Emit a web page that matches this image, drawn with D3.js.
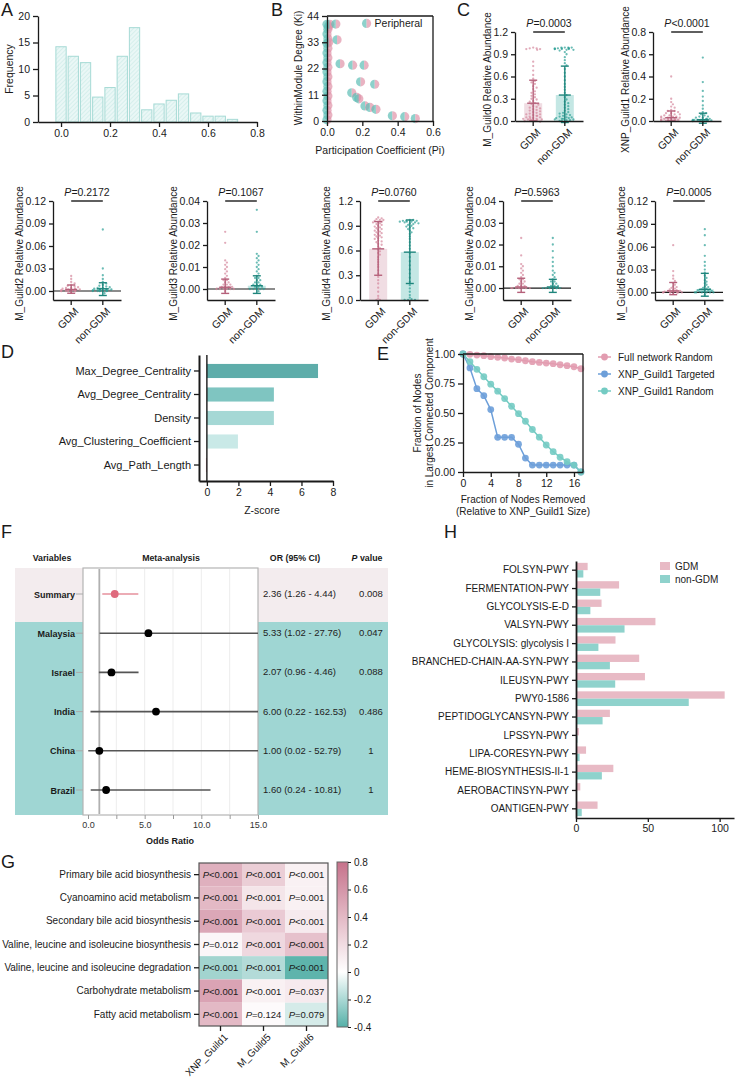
<!DOCTYPE html>
<html>
<head>
<meta charset="utf-8">
<script src="https://d3js.org/d3.v7.min.js"></script>
<style>
  body { margin: 0; background: #fff; }
  svg { display: block; }
</style>
</head>
<body>
<div id="fig"></div>
<script>
const FONT = '"Liberation Sans", Arial, Helvetica, sans-serif';
const INK = "#1a1a1a";

// ---------- A: histogram
const histBins = [0, 0.05, 0.1, 0.15, 0.2, 0.25, 0.3, 0.35, 0.4, 0.45, 0.5, 0.55, 0.6, 0.65, 0.7];
const histFreq = [14.2, 12.4, 11.2, 4.7, 6.5, 12.4, 17.8, 2.3, 3.4, 4.1, 5.3, 1.7, 1.1, 1.1, 0.5];

// ---------- B: peripheral nodes
const nodePi = [0, 0.005, 0, 0.005, 0, 0.005, 0, 0.005, 0, 0.005, 0, 0.005, 0, 0.005, 0, 0.005, 0, 0.005, 0, 0.005, 0,
  0.01, 0.008,
  0.015, 0.05, 0.057, 0.074, 0.145, 0.21, 0.19, 0.27, 0.14, 0.168, 0.18, 0.215, 0.243, 0.277, 0.37, 0.44, 0.5];
const nodeKi = [0.5, 2.5, 4.5, 6.5, 8.5, 10.5, 12.5, 14.5, 16.5, 18.5, 20.5, 22.5, 24.5, 26.5, 28.5, 30.5, 32.5, 34.5, 36.5, 38.5, 40.5,
  33, 39.5,
  40.5, 40.6, 34, 24, 23.4, 23.4, 16.4, 15.4, 11.8, 9.9, 9.3, 6.3, 5.7, 4.9, 2.2, 1.8, 1.0];

// ---------- C: guild abundances
const guildNames = ["M_Guild0", "XNP_Guild1", "M_Guild2", "M_Guild3", "M_Guild4", "M_Guild5", "M_Guild6"];
const guildPval = ["=0.0003", "<0.0001", "=0.2172", "=0.1067", "=0.0760", "=0.5963", "=0.0005"];
const guildYMax = [1.2, 0.8, 0.12, 0.04, 1.2, 0.04, 0.12];
const guildYStep = [0.3, 0.2, 0.03, 0.01, 0.3, 0.01, 0.03];
const guildMeanGDM = [0.24, 0.03, 0.002, 0.0008, 0.62, 0.0005, 0.002];
const guildMeanNon = [0.35, 0.012, 0.003, 0.0015, 0.58, 0.0005, 0.004];
const guildErrGDM = [[0, 0.55], [0, 0.09], [-0.003, 0.008], [-0.002, 0.0045], [0.30, 0.95], [-0.002, 0.0045], [-0.003, 0.013]];
const guildErrNon = [[-0.02, 0.74], [-0.02, 0.07], [-0.006, 0.011], [-0.002, 0.006], [0.20, 0.97], [-0.002, 0.004], [-0.005, 0.025]];

const g0GDM = [0.99, 0.98, 0.98, 0.97, 0.97, 0.96, 0.80, 0.74, 0.68, 0.62, 0.57, 0.54, 0.52, 0.50, 0.47, 0.45, 0.43, 0.40, 0.38, 0.36, 0.34, 0.32, 0.30, 0.29, 0.27, 0.26, 0.24, 0.23, 0.22, 0.20, 0.19, 0.18, 0.17, 0.16, 0.15, 0.14, 0.13, 0.12, 0.11, 0.10, 0.09, 0.09, 0.08, 0.07, 0.07, 0.06, 0.05, 0.05, 0.04, 0.04, 0.03, 0.03, 0.02, 0.02, 0.01, 0.01, 0.01, 0.0, 0.0, -0.01];
const g0Non = [0.99, 0.99, 0.99, 0.99, 0.98, 0.98, 0.98, 0.98, 0.98, 0.97, 0.97, 0.97, 0.97, 0.96, 0.96, 0.95, 0.93, 0.90, 0.86, 0.82, 0.78, 0.75, 0.70, 0.65, 0.60, 0.55, 0.50, 0.46, 0.42, 0.38, 0.35, 0.32, 0.29, 0.26, 0.24, 0.22, 0.20, 0.18, 0.16, 0.14, 0.12, 0.11, 0.10, 0.09, 0.08, 0.07, 0.06, 0.05, 0.05, 0.04, 0.04, 0.03, 0.03, 0.02, 0.02, 0.01, 0.01, 0.0, 0.0, -0.02];
const g1GDM = [0.40, 0.20, 0.17, 0.15, 0.13, 0.12, 0.10, 0.09, 0.09, 0.08, 0.07, 0.07, 0.06, 0.06, 0.05, 0.05, 0.04, 0.04, 0.04, 0.03, 0.03, 0.03, 0.02, 0.02, 0.02, 0.02, 0.01, 0.01, 0.01, 0.01, 0.01, 0.005, 0.005, 0.0, 0.0, 0.0, 0.0];
const g1Non = [0.57, 0.35, 0.27, 0.22, 0.18, 0.14, 0.11, 0.08, 0.07, 0.06, 0.05, 0.04, 0.04, 0.03, 0.03, 0.02, 0.02, 0.02, 0.01, 0.01, 0.01, 0.01, 0.005, 0.005, 0.005, 0.0, 0.0, 0.0, 0.0, 0.0, 0.0, -0.02];
const g2GDM = [0.020, 0.016, 0.012, 0.010, 0.008, 0.007, 0.006, 0.005, 0.004, 0.004, 0.003, 0.003, 0.002, 0.002, 0.002, 0.001, 0.001, 0.001, 0.001, 0.0, 0.0, 0.0, 0.0, 0.0, 0.0, 0.0, -0.002];
const g2Non = [0.082, 0.030, 0.021, 0.016, 0.012, 0.010, 0.008, 0.007, 0.006, 0.005, 0.004, 0.004, 0.003, 0.003, 0.002, 0.002, 0.002, 0.001, 0.001, 0.001, 0.0, 0.0, 0.0, 0.0, 0.0, 0.0, 0.0, -0.003];
const g3GDM = [0.026, 0.021, 0.013, 0.012, 0.011, 0.010, 0.009, 0.008, 0.007, 0.006, 0.005, 0.004, 0.004, 0.003, 0.003, 0.002, 0.002, 0.002, 0.001, 0.001, 0.001, 0.001, 0.0, 0.0, 0.0, 0.0, 0.0, 0.0, -0.001];
const g3Non = [0.036, 0.026, 0.016, 0.015, 0.014, 0.013, 0.012, 0.011, 0.010, 0.009, 0.008, 0.007, 0.006, 0.005, 0.005, 0.004, 0.004, 0.003, 0.003, 0.002, 0.002, 0.002, 0.001, 0.001, 0.001, 0.0, 0.0, 0.0, 0.0, 0.0, -0.001];
const g4GDM = [1.0, 0.99, 0.98, 0.97, 0.97, 0.96, 0.95, 0.95, 0.94, 0.93, 0.92, 0.91, 0.90, 0.89, 0.88, 0.87, 0.86, 0.85, 0.84, 0.83, 0.82, 0.81, 0.80, 0.79, 0.78, 0.77, 0.76, 0.75, 0.74, 0.72, 0.71, 0.70, 0.68, 0.67, 0.65, 0.63, 0.61, 0.59, 0.57, 0.55, 0.52, 0.49, 0.46, 0.43, 0.40, 0.36, 0.32, 0.28, 0.24, 0.20, 0.15, 0.10, 0.05, 0.02, 0.0, 0.0];
const g4Non = [0.97, 0.97, 0.96, 0.96, 0.96, 0.95, 0.95, 0.95, 0.94, 0.94, 0.93, 0.93, 0.92, 0.91, 0.90, 0.89, 0.88, 0.87, 0.86, 0.84, 0.82, 0.80, 0.77, 0.74, 0.70, 0.66, 0.62, 0.57, 0.52, 0.47, 0.42, 0.37, 0.32, 0.27, 0.22, 0.18, 0.14, 0.10, 0.06, 0.03, 0.01, 0.0, 0.0, 0.0];
const g5GDM = [0.023, 0.015, 0.011, 0.010, 0.009, 0.008, 0.007, 0.006, 0.005, 0.004, 0.004, 0.003, 0.003, 0.002, 0.002, 0.001, 0.001, 0.001, 0.0, 0.0, 0.0, 0.0, 0.0, 0.0, 0.0, 0.0, 0.0];
const g5Non = [0.023, 0.020, 0.017, 0.014, 0.012, 0.010, 0.008, 0.007, 0.006, 0.005, 0.004, 0.003, 0.003, 0.002, 0.002, 0.001, 0.001, 0.001, 0.0, 0.0, 0.0, 0.0, 0.0, 0.0, 0.0, 0.0, 0.0];
const g6GDM = [0.062, 0.028, 0.022, 0.018, 0.015, 0.012, 0.010, 0.008, 0.007, 0.006, 0.005, 0.004, 0.003, 0.003, 0.002, 0.002, 0.001, 0.001, 0.001, 0.0, 0.0, 0.0, 0.0, 0.0, 0.0, 0.0, 0.0, -0.002];
const g6Non = [0.083, 0.075, 0.062, 0.048, 0.040, 0.035, 0.030, 0.026, 0.022, 0.019, 0.016, 0.014, 0.012, 0.010, 0.008, 0.007, 0.006, 0.005, 0.004, 0.004, 0.003, 0.003, 0.002, 0.002, 0.001, 0.001, 0.0, 0.0, 0.0, 0.0, 0.0, 0.0, -0.003];
const guildGDMPoints = [g0GDM, g1GDM, g2GDM, g3GDM, g4GDM, g5GDM, g6GDM];
const guildNonPoints = [g0Non, g1Non, g2Non, g3Non, g4Non, g5Non, g6Non];

// ---------- D: z-scores
const zMetrics = ["Max_Degree_Centrality", "Avg_Degree_Centrality", "Density", "Avg_Clustering_Coefficient", "Avg_Path_Length"];
const zScores = [7.05, 4.25, 4.25, 1.97, -0.06];

// ---------- E: robustness
const nodesRemoved = [0, 1, 2, 3, 4, 5, 6, 7, 8, 9, 10, 11, 12, 13, 14, 15, 16, 17];
const fullRandom = [1.0, 0.997, 0.991, 0.986, 0.977, 0.972, 0.966, 0.957, 0.952, 0.943, 0.935, 0.929, 0.923, 0.918, 0.909, 0.901, 0.892, 0.875];
const guildTargeted = [1.0, 0.882, 0.706, 0.647, 0.529, 0.294, 0.294, 0.294, 0.235, 0.118, 0.059, 0.059, 0.059, 0.059, 0.059, 0.059, 0.059, 0.0];
const guildRandom = [1.0, 0.935, 0.87, 0.807, 0.744, 0.685, 0.622, 0.557, 0.494, 0.43, 0.36, 0.295, 0.229, 0.172, 0.125, 0.087, 0.059, 0.0];
const robustSeries = ["Full network Random", "XNP_Guild1 Targeted", "XNP_Guild1 Random"];

// ---------- F: meta-analysis
const studyNames = ["Summary", "Malaysia", "Israel", "India", "China", "Brazil"];
const studyOR = [2.36, 5.33, 2.07, 6.00, 1.00, 1.60];
const studyLo = [1.26, 1.02, 0.96, 0.22, 0.02, 0.24];
const studyHi = [4.44, 27.76, 4.46, 162.53, 52.79, 10.81];
const studyP = ["0.008", "0.047", "0.088", "0.486", "1", "1"];

// ---------- G: correlation heatmap
const heatRows = ["Primary bile acid biosynthesis", "Cyanoamino acid metabolism", "Secondary bile acid biosynthesis",
  "Valine, leucine and isoleucine biosynthesis", "Valine, leucine and isoleucine degradation",
  "Carbohydrate metabolism", "Fatty acid metabolism"];
const heatCols = ["XNP_Guild1", "M_Guild5", "M_Guild6"];
const heatR = [[0.45, 0.28, 0.08], [0.40, 0.15, 0.08], [0.50, 0.30, 0.12], [0.05, 0.22, 0.35],
  [-0.22, -0.18, -0.38], [0.52, 0.08, 0.12], [0.40, 0.03, -0.10]];
const heatP = [["<0.001", "<0.001", "<0.001"], ["<0.001", "<0.001", "=0.001"], ["<0.001", "<0.001", "<0.001"],
  ["=0.012", "<0.001", "<0.001"], ["<0.001", "<0.001", "<0.001"], ["<0.001", "<0.001", "=0.037"],
  ["<0.001", "=0.124", "=0.079"]];

// ---------- H: pathways
const pathways = ["FOLSYN-PWY", "FERMENTATION-PWY", "GLYCOLYSIS-E-D", "VALSYN-PWY", "GLYCOLYSIS: glycolysis I",
  "BRANCHED-CHAIN-AA-SYN-PWY", "ILEUSYN-PWY", "PWY0-1586", "PEPTIDOGLYCANSYN-PWY", "LPSSYN-PWY",
  "LIPA-CORESYN-PWY", "HEME-BIOSYNTHESIS-II-1", "AEROBACTINSYN-PWY", "OANTIGEN-PWY"];
const pathGDM = [8.1, 30, 17.8, 55.3, 27.5, 44, 48, 103.5, 23.6, 2, 7, 26, 3, 15];
const pathNon = [5.1, 16.9, 10, 33.8, 15.6, 23.6, 27.3, 78.5, 18.5, 1, 2.5, 18, 0.5, 4];

// =====================================================================
const svg = d3.select("#fig").append("svg")
  .attr("width", 750).attr("height", 1079)
  .attr("font-family", FONT)
  .style("background", "#fff");
const defs = svg.append("defs");

function fixAxis(g, fs) {
  g.attr("font-family", FONT).attr("font-size", fs || 10);
  g.selectAll(".domain").attr("stroke", INK).attr("stroke-width", 1.3);
  g.selectAll(".tick line").attr("stroke", INK).attr("stroke-width", 1.3);
  g.selectAll(".tick text").attr("fill", INK);
  return g;
}
function panelLetter(t, x, y) {
  svg.append("text").attr("x", x).attr("y", y).attr("font-size", 18).attr("fill", INK).text(t);
}
function rotLabel(t, x, y, fs) {
  return svg.append("text").attr("transform", `translate(${x},${y}) rotate(-90)`)
    .attr("text-anchor", "middle").attr("dominant-baseline", "middle")
    .attr("font-size", fs || 10).attr("fill", INK).text(t);
}
function pText(sel, rest) {
  sel.append("tspan").attr("font-style", "italic").text("P");
  sel.append("tspan").text(rest);
}

// ---------------- A
panelLetter("A", 1, 16);
const hatch = defs.append("pattern").attr("id", "hatch").attr("patternUnits", "userSpaceOnUse")
  .attr("width", 3).attr("height", 3).attr("patternTransform", "rotate(45)");
hatch.append("rect").attr("width", 3).attr("height", 3).attr("fill", "#eaf7f6");
hatch.append("line").attr("x1", 0).attr("y1", 0).attr("x2", 0).attr("y2", 3)
  .attr("stroke", "#c3e7e3").attr("stroke-width", 1);

const ax = d3.scaleLinear().domain([-0.094, 0.8]).range([38, 257]);
const ay = d3.scaleLinear().domain([0, 20]).range([122, 16]);
svg.append("g").selectAll("rect").data(histBins).join("rect")
  .attr("x", d => ax(d - 0.021))
  .attr("width", ax(0.021) - ax(-0.021))
  .attr("y", (d, i) => ay(histFreq[i]))
  .attr("height", (d, i) => ay(0) - ay(histFreq[i]))
  .attr("fill", "url(#hatch)").attr("stroke", "#a6dad5").attr("stroke-width", 1);
fixAxis(svg.append("g").attr("transform", "translate(0,122)")
  .call(d3.axisBottom(ax).tickValues([0, 0.2, 0.4, 0.6, 0.8]).tickFormat(d3.format(".1f")).tickSize(5).tickSizeOuter(0)), 10.5);
fixAxis(svg.append("g").attr("transform", "translate(38,0)")
  .call(d3.axisLeft(ay).tickValues([0, 5, 10, 15, 20]).tickSize(5).tickSizeOuter(0)), 10.5);
rotLabel("Frequency", 10, 69, 10.5);

// ---------------- B
panelLetter("B", 271, 16);
const bx = d3.scaleLinear().domain([0, 0.6]).range([327, 433]);
const by = d3.scaleLinear().domain([0, 44]).range([121, 16]);
const halfL = d3.arc().innerRadius(0).outerRadius(4.6).startAngle(Math.PI).endAngle(2 * Math.PI);
const halfR = d3.arc().innerRadius(0).outerRadius(4.6).startAngle(0).endAngle(Math.PI);
const nodeG = svg.append("g").selectAll("g").data(nodePi).join("g")
  .attr("transform", (d, i) => `translate(${bx(d)},${by(nodeKi[i])})`);
nodeG.append("path").attr("d", halfL()).attr("fill", "#5dbdb5").attr("opacity", 0.7);
nodeG.append("path").attr("d", halfR()).attr("fill", "#df93a8").attr("opacity", 0.7);
svg.append("line").attr("x1", 327).attr("x2", 433).attr("y1", 16).attr("y2", 16).attr("stroke", INK).attr("stroke-width", 1.3);
svg.append("line").attr("x1", 433).attr("x2", 433).attr("y1", 16).attr("y2", 121).attr("stroke", INK).attr("stroke-width", 1.3);
fixAxis(svg.append("g").attr("transform", "translate(0,121)")
  .call(d3.axisBottom(bx).tickValues([0, 0.2, 0.4, 0.6]).tickFormat(d3.format(".1f")).tickSize(5).tickSizeOuter(0)), 10.5);
fixAxis(svg.append("g").attr("transform", "translate(327,0)")
  .call(d3.axisLeft(by).tickValues([0, 11, 22, 33, 44]).tickSize(5).tickSizeOuter(0)), 10.5);
rotLabel("WithinModule Degree (Ki)", 299, 68, 10);
svg.append("text").attr("x", 380).attr("y", 154).attr("text-anchor", "middle").attr("font-size", 10.5)
  .attr("fill", INK).text("Participation Coefficient (Pi)");
const legB = svg.append("g").attr("transform", `translate(${bx(0.224)},${by(40.9)})`);
legB.append("path").attr("d", halfL()).attr("fill", "#5dbdb5").attr("opacity", 0.7);
legB.append("path").attr("d", halfR()).attr("fill", "#df93a8").attr("opacity", 0.7);
svg.append("text").attr("x", bx(0.224) + 8).attr("y", by(40.9) + 4).attr("font-size", 10.5).attr("fill", INK).text("Peripheral");

// ---------------- C: swarm plots
panelLetter("C", 457, 16);
const groups = ["GDM", "non-GDM"];
const groupFill = ["#f0dde3", "#c4e7e4"];
const groupDot = ["#d4879d", "#2c9f95"];
const groupErr = ["#b5607a", "#1e857c"];
const plotX = [515, 653, 53, 207, 360, 503, 655];
const plotTop = [32, 32, 201, 201, 201, 201, 201];
const plotBot = [121, 121, 300, 300, 300, 300, 300];
const yMinAxis = [0, 0, -0.012, -0.005, 0, -0.0055, -0.01];

function swarm(vals, y, r, maxW) {
  const pts = vals.map(v => ({ v: v, y: y(v) })).sort((a, b) => a.y - b.y);
  const placed = [];
  pts.forEach((p, i) => {
    let best = null;
    for (let k = 0; k < 60; k++) {
      const off = (k % 2 ? 1 : -1) * Math.ceil(k / 2) * r * 1.5;
      if (Math.abs(off) > maxW) break;
      if (placed.every(q => Math.hypot(q.dx - off, q.y - p.y) >= 2 * r)) { best = off; break; }
    }
    if (best === null) best = ((i * 7) % (2 * maxW + 1)) - maxW;
    p.dx = best;
    placed.push(p);
  });
  return pts;
}

guildNames.forEach((name, i) => {
  const x0 = plotX[i], top = plotTop[i], bot = plotBot[i];
  const y = d3.scaleLinear().domain([yMinAxis[i], guildYMax[i]]).range([bot, top]);
  const xb = d3.scaleBand().domain(groups).range([x0, x0 + 68]).paddingInner(0.15).paddingOuter(0.15);
  const cx = d => xb(d) + xb.bandwidth() / 2;
  const means = [guildMeanGDM[i], guildMeanNon[i]];
  const errs = [guildErrGDM[i], guildErrNon[i]];
  const pts = [guildGDMPoints[i], guildNonPoints[i]];
  const g = svg.append("g");

  g.selectAll("rect").data(groups).join("rect")
    .attr("x", d => cx(d) - 9).attr("width", 18)
    .attr("y", (d, j) => y(means[j]))
    .attr("height", (d, j) => Math.max(0.8, y(0) - y(means[j])))
    .attr("fill", (d, j) => groupFill[j]);

  if (yMinAxis[i] < 0) {
    g.append("line").attr("x1", x0).attr("x2", x0 + 68).attr("y1", y(0)).attr("y2", y(0))
      .attr("stroke", INK).attr("stroke-width", 1.2);
  }

  groups.forEach((grp, j) => {
    const sw = swarm(pts[j], y, 1.15, 10);
    g.append("g").selectAll("circle").data(sw).join("circle")
      .attr("cx", d => cx(grp) + d.dx).attr("cy", d => d.y).attr("r", 1.15)
      .attr("fill", groupDot[j]).attr("opacity", 0.7);
    const eg = g.append("g").attr("stroke", groupErr[j]).attr("stroke-width", 1.4);
    eg.append("line").attr("x1", cx(grp)).attr("x2", cx(grp)).attr("y1", y(errs[j][0])).attr("y2", y(errs[j][1]));
    eg.selectAll("line.cap").data(errs[j]).join("line").attr("class", "cap")
      .attr("x1", cx(grp) - 4).attr("x2", cx(grp) + 4).attr("y1", d => y(d)).attr("y2", d => y(d));
    eg.append("line").attr("x1", cx(grp) - 6).attr("x2", cx(grp) + 6).attr("y1", y(means[j])).attr("y2", y(means[j]));
  });

  const ticks = d3.range(0, guildYMax[i] + guildYStep[i] / 2, guildYStep[i]);
  const fmt = guildYMax[i] >= 0.5 ? d3.format(".1f") : d3.format(".2f");
  fixAxis(g.append("g").attr("transform", `translate(${x0},0)`)
    .call(d3.axisLeft(y).tickValues(ticks).tickFormat(fmt).tickSize(4).tickSizeOuter(0)), 10.5);
  const xa = fixAxis(g.append("g").attr("transform", `translate(0,${bot})`)
    .call(d3.axisBottom(xb).tickSize(5).tickSizeOuter(0)), 10.5);
  xa.selectAll(".tick text").attr("text-anchor", "end")
    .attr("transform", "translate(-2,2) rotate(-45)").attr("dy", "0.6em");

  g.append("line").attr("x1", cx("GDM")).attr("x2", cx("non-GDM")).attr("y1", top).attr("y2", top)
    .attr("stroke", INK).attr("stroke-width", 1.4);
  const pt = g.append("text").attr("x", (cx("GDM") + cx("non-GDM")) / 2).attr("y", top - 5)
    .attr("text-anchor", "middle").attr("font-size", 10.5).attr("fill", INK);
  pText(pt, guildPval[i]);

  rotLabel(name + " Relative Abundance", x0 - (i < 2 ? 27 : 33), (top + bot) / 2 + 3, 10);
});

// ---------------- D
panelLetter("D", 1, 358);
const dx = d3.scaleLinear().domain([-0.5, 8]).range([199, 333]);
const dy = d3.scaleBand().domain(zMetrics).range([355, 481]).paddingInner(0.4).paddingOuter(0.38);
const zColor = ["#5eadaa", "#7fc5c1", "#a5d8d5", "#c9e9e7", "#e3a1b2"];
svg.append("g").selectAll("rect").data(zMetrics).join("rect")
  .attr("x", (d, i) => dx(Math.min(0, zScores[i])))
  .attr("width", (d, i) => Math.abs(dx(zScores[i]) - dx(0)))
  .attr("y", d => dy(d)).attr("height", dy.bandwidth())
  .attr("fill", (d, i) => zColor[i]);
svg.append("line").attr("x1", dx(0)).attr("x2", dx(0)).attr("y1", 355).attr("y2", 481)
  .attr("stroke", INK).attr("stroke-width", 1.4);
fixAxis(svg.append("g").attr("transform", "translate(199,0)")
  .call(d3.axisLeft(dy).tickSize(5).tickSizeOuter(0)), 11).selectAll(".domain").attr("stroke-width", 2);
fixAxis(svg.append("g").attr("transform", "translate(0,481)")
  .call(d3.axisBottom(dx).tickValues([0, 2, 4, 6, 8]).tickSize(5).tickSizeOuter(0)), 10.5)
  .selectAll(".domain").attr("stroke-width", 2);
svg.append("text").attr("x", 262).attr("y", 514).attr("text-anchor", "middle").attr("font-size", 10.5)
  .attr("fill", INK).text("Z-score");

// ---------------- E
panelLetter("E", 377, 360);
const ex = d3.scaleLinear().domain([0, 17.3]).range([463, 583]);
const ey = d3.scaleLinear().domain([0, 1]).range([472, 354]);
const eSeries = [fullRandom, guildTargeted, guildRandom];
const eColor = ["#e29cb0", "#6d9fd9", "#74cbc3"];
const eLine = d3.line().x((d, i) => ex(nodesRemoved[i])).y(d => ey(d));
eSeries.forEach((s, k) => {
  svg.append("path").attr("d", eLine(s)).attr("fill", "none").attr("stroke", eColor[k]).attr("stroke-width", 1.5);
  svg.append("g").selectAll("circle").data(s).join("circle")
    .attr("cx", (d, i) => ex(nodesRemoved[i])).attr("cy", d => ey(d)).attr("r", 3.4)
    .attr("fill", eColor[k]).attr("opacity", 0.9);
});
svg.append("line").attr("x1", 463).attr("x2", 583).attr("y1", 354).attr("y2", 354).attr("stroke", INK).attr("stroke-width", 1.3);
svg.append("line").attr("x1", 583).attr("x2", 583).attr("y1", 354).attr("y2", 472).attr("stroke", INK).attr("stroke-width", 1.3);
fixAxis(svg.append("g").attr("transform", "translate(0,472)")
  .call(d3.axisBottom(ex).tickValues([0, 4, 8, 12, 16]).tickSize(5).tickSizeOuter(0)), 10.5);
fixAxis(svg.append("g").attr("transform", "translate(463,0)")
  .call(d3.axisLeft(ey).tickValues([0, 0.25, 0.5, 0.75, 1]).tickFormat(d3.format(".2f")).tickSize(5).tickSizeOuter(0)), 10.5);
rotLabel("Fraction of Nodes", 418, 413, 10);
rotLabel("in Largest Connected Component", 430, 413, 10);
svg.append("text").attr("x", 523).attr("y", 503).attr("text-anchor", "middle").attr("font-size", 10)
  .attr("fill", INK).text("Fraction of Nodes Removed");
svg.append("text").attr("x", 523).attr("y", 515).attr("text-anchor", "middle").attr("font-size", 10)
  .attr("fill", INK).text("(Relative to XNP_Guild1 Size)");
const eLeg = svg.append("g").selectAll("g").data(robustSeries).join("g")
  .attr("transform", (d, k) => `translate(598,${357 + k * 17})`);
eLeg.append("line").attr("x1", 0).attr("x2", 13).attr("stroke", (d, k) => eColor[k]).attr("stroke-width", 1.5);
eLeg.append("circle").attr("cx", 6.5).attr("r", 3.4).attr("fill", (d, k) => eColor[k]);
eLeg.append("text").attr("x", 20).attr("y", 3.5).attr("font-size", 10).attr("fill", INK).text(d => d);

// ---------------- F
panelLetter("F", 1, 538);
const fx = d3.scaleLinear().domain([0, 15]).range([88, 258]);
const fy = d3.scalePoint().domain(studyNames).range([594, 790]);
const fHead = svg.append("g").attr("font-size", 8.8).attr("font-weight", "bold").attr("fill", INK);
fHead.append("text").attr("x", 52).attr("y", 561).attr("text-anchor", "middle").text("Variables");
fHead.append("text").attr("x", 171).attr("y", 561).attr("text-anchor", "middle").text("Meta-analysis");
fHead.append("text").attr("x", 295).attr("y", 561).attr("text-anchor", "middle").text("OR (95%  CI)");
const pvH = fHead.append("text").attr("x", 367).attr("y", 561).attr("text-anchor", "middle");
pvH.append("tspan").attr("font-style", "italic").text("P");
pvH.append("tspan").text(" value");

svg.append("rect").attr("x", 15).attr("y", 568).attr("width", 68).attr("height", 54).attr("fill", "#f3ecee");
svg.append("rect").attr("x", 258).attr("y", 568).attr("width", 130).attr("height", 54).attr("fill", "#f3ecee");
svg.append("rect").attr("x", 15).attr("y", 622).attr("width", 68).attr("height", 193).attr("fill", "#9fd6d3");
svg.append("rect").attr("x", 258).attr("y", 622).attr("width", 130).attr("height", 193).attr("fill", "#9fd6d3");
svg.append("rect").attr("x", 83).attr("y", 568).attr("width", 175).attr("height", 247)
  .attr("fill", "#fff").attr("stroke", "#b4b4b4").attr("stroke-width", 1.2);
svg.append("g").selectAll("line").data([2.5, 5, 7.5, 10, 12.5]).join("line")
  .attr("x1", d => fx(d)).attr("x2", d => fx(d)).attr("y1", 569).attr("y2", 814)
  .attr("stroke", "#ededed").attr("stroke-width", 1);
svg.append("line").attr("x1", fx(1)).attr("x2", fx(1)).attr("y1", 569).attr("y2", 814)
  .attr("stroke", "#b0b0b0").attr("stroke-width", 1.8);

const fRows = svg.append("g").selectAll("g").data(studyNames).join("g")
  .attr("transform", d => `translate(0,${fy(d)})`);
fRows.append("line").attr("x1", 76).attr("x2", 83).attr("stroke", "#aaa").attr("stroke-width", 1);
fRows.append("text").attr("x", 75).attr("y", 3.5).attr("text-anchor", "end").attr("font-size", 9)
  .attr("font-weight", "bold").attr("fill", INK).text(d => d);
fRows.append("line")
  .attr("x1", (d, i) => Math.max(83, fx(studyLo[i]))).attr("x2", (d, i) => Math.min(258, fx(studyHi[i])))
  .attr("stroke", (d, i) => i === 0 ? "#e6909d" : "#555").attr("stroke-width", 1.6);
fRows.append("circle").attr("cx", (d, i) => fx(studyOR[i])).attr("r", 3.9)
  .attr("fill", (d, i) => i === 0 ? "#df6a7d" : "#000");
fRows.append("text").attr("x", 263).attr("y", 3).attr("font-size", 9.5).attr("fill", "#222")
  .text((d, i) => `${studyOR[i].toFixed(2)} (${studyLo[i].toFixed(2)} - ${studyHi[i].toFixed(2)})`);
fRows.append("text").attr("x", 371).attr("y", 3).attr("text-anchor", "middle").attr("font-size", 9.5)
  .attr("fill", "#222").text((d, i) => studyP[i]);

const fAxis = svg.append("g").attr("transform", "translate(0,815)")
  .call(d3.axisBottom(fx).tickValues([0, 2.5, 5, 7.5, 10, 12.5, 15])
    .tickFormat(d => d % 5 === 0 ? d.toFixed(1) : "").tickSize(4).tickSizeOuter(0));
fAxis.attr("font-family", FONT).attr("font-size", 9);
fAxis.select(".domain").remove();
fAxis.selectAll(".tick line").attr("stroke", "#999");
fAxis.selectAll(".tick text").attr("fill", "#333");
svg.append("text").attr("x", 170).attr("y", 844).attr("text-anchor", "middle").attr("font-size", 9)
  .attr("font-weight", "bold").attr("fill", INK).text("Odds Ratio");

// ---------------- H
panelLetter("H", 444, 538);
const hx = d3.scaleLinear().domain([0, 110]).range([576, 734]);
const hy = d3.scaleBand().domain(pathways).range([561, 818]).paddingInner(0.2).paddingOuter(0.1);
const hColor = ["#e8bac5", "#8fd2cc"];
const hBars = svg.append("g");
[pathGDM, pathNon].forEach((vals, k) => {
  hBars.append("g").selectAll("rect").data(pathways).join("rect")
    .attr("x", hx(0)).attr("y", d => hy(d) + k * hy.bandwidth() / 2)
    .attr("width", (d, i) => hx(vals[i]) - hx(0)).attr("height", hy.bandwidth() / 2)
    .attr("fill", hColor[k]);
});
fixAxis(svg.append("g").attr("transform", "translate(576,0)")
  .call(d3.axisLeft(hy).tickSize(4).tickSizeOuter(0)), 10).selectAll(".domain").attr("stroke-width", 1.8);
fixAxis(svg.append("g").attr("transform", "translate(0,818)")
  .call(d3.axisBottom(hx).tickValues([0, 50, 100]).tickSize(4).tickSizeOuter(0)), 10.5);
const hLeg = svg.append("g").selectAll("g").data(groups).join("g")
  .attr("transform", (d, k) => `translate(660,${562 + k * 13})`);
hLeg.append("rect").attr("width", 10).attr("height", 8).attr("fill", (d, k) => hColor[k]);
hLeg.append("text").attr("x", 15).attr("y", 8).attr("font-size", 10).attr("fill", INK).text(d => d);

// ---------------- G
panelLetter("G", 1, 868);
const gx = d3.scaleBand().domain(heatCols).range([199, 328]);
const gy = d3.scaleBand().domain(heatRows).range([863, 1026]);
const gColor = d3.scaleLinear().domain([-0.4, 0, 0.8]).range(["#55b0a8", "#ffffff", "#c6728b"]);
heatRows.forEach((row, r) => {
  const rg = svg.append("g");
  rg.selectAll("rect").data(heatCols).join("rect")
    .attr("x", d => gx(d)).attr("y", gy(row)).attr("width", gx.bandwidth()).attr("height", gy.bandwidth())
    .attr("fill", (d, c) => gColor(heatR[r][c]));
  rg.selectAll("text").data(heatCols).join("text")
    .attr("x", d => gx(d) + gx.bandwidth() / 2).attr("y", gy(row) + gy.bandwidth() / 2 + 3.5)
    .attr("text-anchor", "middle").attr("font-size", 9.5).attr("fill", INK)
    .each(function (d, c) { pText(d3.select(this), heatP[r][c]); });
});
svg.append("rect").attr("x", 199).attr("y", 863).attr("width", 129).attr("height", 163)
  .attr("fill", "none").attr("stroke", "#555").attr("stroke-width", 1.2);
fixAxis(svg.append("g").attr("transform", "translate(199,0)")
  .call(d3.axisLeft(gy).tickSize(5).tickSizeOuter(0)), 10).select(".domain").remove();
const gxa = fixAxis(svg.append("g").attr("transform", "translate(0,1026)")
  .call(d3.axisBottom(gx).tickSize(5).tickSizeOuter(0)), 10);
gxa.select(".domain").remove();
gxa.selectAll(".tick text").attr("text-anchor", "end")
  .attr("transform", "translate(-2,2) rotate(-45)").attr("dy", "0.6em");

const grad = defs.append("linearGradient").attr("id", "cbar").attr("x1", 0).attr("y1", 1).attr("x2", 0).attr("y2", 0);
[-0.4, -0.2, 0, 0.2, 0.4, 0.6, 0.8].forEach(v => {
  grad.append("stop").attr("offset", (v + 0.4) / 1.2).attr("stop-color", gColor(v));
});
const cb = d3.scaleLinear().domain([-0.4, 0.8]).range([1027, 862]);
svg.append("rect").attr("x", 337).attr("y", 862).attr("width", 11).attr("height", 165)
  .attr("fill", "url(#cbar)").attr("stroke", "#666").attr("stroke-width", 1);
const cba = fixAxis(svg.append("g").attr("transform", "translate(348,0)")
  .call(d3.axisRight(cb).tickValues([-0.4, -0.2, 0, 0.2, 0.4, 0.6, 0.8])
    .tickFormat(d => Math.abs(d) < 1e-9 ? "0" : d.toFixed(1)).tickSize(3).tickSizeOuter(0)), 10);
cba.select(".domain").remove();
cba.selectAll(".tick line").attr("stroke-width", 1);
</script>
</body>
</html>
